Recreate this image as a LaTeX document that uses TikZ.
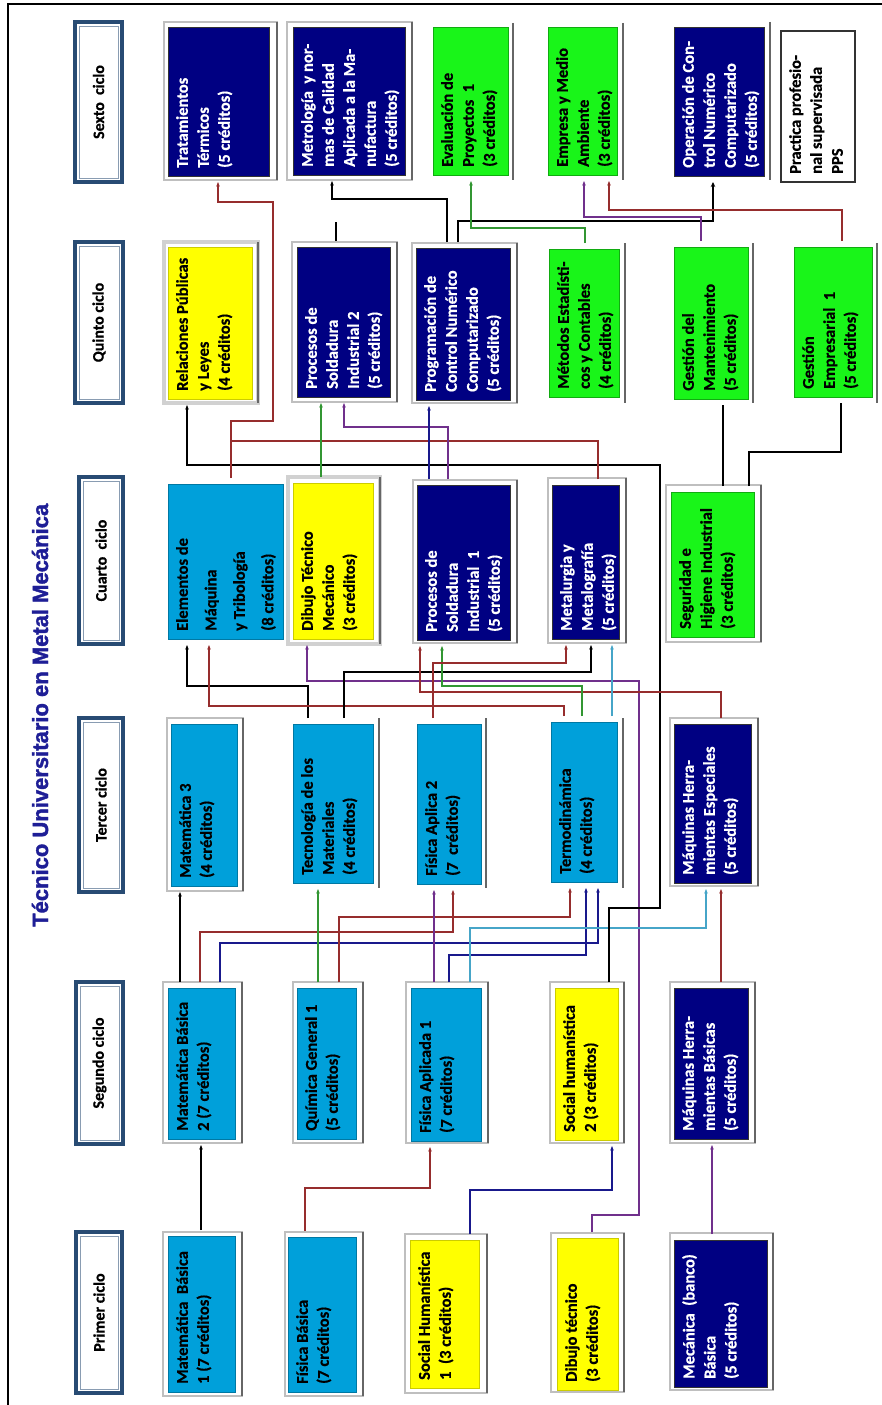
\documentclass[tikz,border=0pt]{standalone}
\usepackage{fontspec}
\setmainfont{Carlito}[BoldFeatures={FakeBold=0.6}]
\newfontfamily\titlefont{Liberation Sans}[BoldFeatures={FakeBold=1.6}]
\usetikzlibrary{fit,arrows.meta}
\definecolor{cnavy}{RGB}{0,0,130}
\definecolor{clblue}{RGB}{0,160,218}
\definecolor{cyel}{RGB}{255,255,0}
\definecolor{cgreen}{RGB}{25,245,25}
\definecolor{lred}{RGB}{150,45,45}
\definecolor{lpurple}{RGB}{112,48,140}
\definecolor{lgreen}{RGB}{50,150,50}
\definecolor{lcyan}{RGB}{70,165,200}
\definecolor{lnavy}{RGB}{25,25,140}
\definecolor{hdrblue}{RGB}{40,75,115}
\definecolor{ttlblue}{RGB}{30,30,150}
\newcommand\course[8]{%
  \node[#2, fit={(#4,#5)(#6,#7)}] (#1) {};
  \node[#3] at ({#4+8},{#7-8}) {#8};}
\newcommand\cyc[6]{%
  \node[hdr, fit={(#2,#3)(#4,#5)}] (#1) {};
  \draw[hdrin] ({#2+4},{#3+4}) rectangle ({#4-4},{#5-4});
  \node[hdrtxt] at (#1.center) {#6};}
\newcommand\frA[4]{\draw[frm] (#1,#2) rectangle (#3,#4); \draw[fedge] (#3,#2) -- (#3,#4);}
\newcommand\frT[4]{\draw[frmthick] (#1,#2) rectangle (#3,#4); \draw[fedge] (#3,#2) -- (#3,#4);}
\newcommand\frB[3]{\draw[fedge] (#1,#2) -- (#1,#3);}
\begin{document}
\begin{tikzpicture}[x=1pt,y=-1pt,
  cbox/.style={inner sep=0pt, outer sep=6pt, line width=0.8pt},
  navybox/.style={cbox, fill=cnavy, draw=black!80},
  bluebox/.style={cbox, fill=clblue, draw=clblue!75!black},
  yelbox/.style={cbox, fill=cyel, draw=cyel!80!black},
  grnbox/.style={cbox, fill=cgreen, draw=cgreen!70!black},
  whtbox/.style={cbox, fill=white, draw=black!80, line width=1.3pt},
  txt/.style={rotate=90, anchor=north west, inner sep=0pt, align=left, font=\bfseries\fontsize{16.5}{21}\selectfont},
  wtxt/.style={txt, text=white},
  btxt/.style={txt, text=black},
  btxtwide/.style={btxt, font=\bfseries\fontsize{16.5}{28.5}\selectfont},
  hdr/.style={inner sep=0pt, draw=hdrblue, line width=3.5pt, fill=white},
  hdrin/.style={draw=hdrblue!55, line width=0.9pt},
  hdrtxt/.style={rotate=90, text=black, font=\bfseries\fontsize{16}{19}\selectfont},
  frm/.style={draw=black!25, line width=1.2pt, fill=white},
  frmthick/.style={draw=black!18, line width=3.5pt, fill=white},
  fedge/.style={draw=black!60, line width=1.8pt},
  link/.style={line width=1.1pt, -{Stealth[length=4.5pt,width=3.5pt]}},
  nolink/.style={line width=1.1pt},
  thicklink/.style={line width=2.4pt, black, -{Stealth[length=5pt,width=4.5pt]}},
  thickline/.style={line width=2.4pt, black}
]
\useasboundingbox (0,0) rectangle (882,1405);
\fill[white] (0,0) rectangle (882,1405);
\draw[line width=2pt] (882,4) -- (8,4) -- (8,1405);

\node[rotate=90, anchor=base west, inner sep=0pt, text=ttlblue,
  font=\titlefont\bfseries\fontsize{22}{26}\selectfont] (title) at (48,927)
  {Técnico Universitario en Metal Mecánica};

% cycle headers
\cyc{h6}{75}{22}{122}{182}{Sexto~ ciclo}
\cyc{h5}{75}{242}{123}{403}{Quinto ciclo}
\cyc{h4}{79}{477}{123}{644}{Cuarto~ ciclo}
\cyc{h3}{79}{718}{123}{892}{Tercer ciclo}
\cyc{h2}{76}{982}{123}{1144}{Segundo ciclo}
\cyc{h1}{76}{1232}{122}{1393}{Primer ciclo}

% frames
\frA{164}{22}{277}{180}
\frA{287}{22}{412}{180}
\frB{513}{23}{180}
\frB{623}{23}{180}
\frB{770}{22}{180}
\frT{164}{242}{258}{403}
\frA{292}{242}{397}{402}
\frA{412}{243}{517}{403}
\frB{625}{243}{403}
\frB{753}{243}{403}
\frB{877}{243}{403}
\frT{288}{477}{380}{644}
\frA{413}{480}{517}{643}
\frA{548}{478}{626}{643}
\frA{666}{485}{761}{642}
\frA{167}{718}{243}{891}
\frB{379}{718}{888}
\frB{486}{718}{888}
\frB{623}{718}{888}
\frA{670}{718}{758}{886}
\frA{163}{982}{242}{1143}
\frA{293}{982}{363}{1143}
\frA{406}{982}{488}{1143}
\frA{550}{982}{624}{1143}
\frA{670}{982}{755}{1143}
\frA{163}{1232}{242}{1396}
\frA{285}{1232}{363}{1396}
\frA{405}{1234}{487}{1393}
\frA{551}{1233}{624}{1392}
\frA{670}{1233}{773}{1390}

% sixth cycle
\course{tt}{navybox}{wtxt}{168}{27}{269}{176}{Tratamientos\\Térmicos\\(5 créditos)}
\course{me}{navybox}{wtxt}{293}{27}{405}{175}{Metrología~ y nor-\\mas de Calidad\\Aplicada a la Ma-\\nufactura\\(5 créditos)}
\course{ev}{grnbox}{btxt}{433}{27}{508}{175}{Evaluación de\\Proyectos~ 1\\(3 créditos)}
\course{em}{grnbox}{btxt}{548}{27}{617}{175}{Empresa y Medio\\Ambiente\\(3 créditos)}
\course{oc}{navybox}{wtxt}{674}{27}{764}{176}{Operación de Con-\\trol Numérico\\Computarizado\\(5 créditos)}
\course{pp}{whtbox}{btxt}{781}{31}{855}{182}{Practica profesio-\\nal supervisada\\PPS}
% fifth cycle
\course{rp}{yelbox}{btxt}{168}{247}{252}{399}{Relaciones Públicas\\y Leyes\\(4 créditos)}
\course{ps2}{navybox}{wtxt}{297}{247}{390}{397}{Procesos de\\Soldadura\\Industrial 2\\(5 créditos)}
\course{pc}{navybox}{wtxt}{416}{248}{510}{400}{Programación de\\Control Numérico\\Computarizado\\(5 créditos)}
\course{mt}{grnbox}{btxt}{549}{249}{619}{397}{Métodos Estadísti-\\cos y Contables\\(4 créditos)}
\course{gm}{grnbox}{btxt}{674}{247}{748}{399}{Gestión del\\Mantenimiento\\(5 créditos)}
\course{ge}{grnbox}{btxt}{794}{247}{872}{397}{Gestión\\Empresarial~ 1\\(5 créditos)}
% fourth cycle
\course{el}{bluebox}{btxtwide}{168}{484}{283}{639}{Elementos de\\Máquina\\y Tribología\\(8 créditos)}
\course{dm}{yelbox}{btxt}{293}{483}{373}{639}{Dibujo Técnico\\Mecánico\\(3 créditos)}
\course{ps1}{navybox}{wtxt}{417}{485}{510}{640}{Procesos de\\Soldadura\\Industrial~ 1\\(5 créditos)}
\course{mg}{navybox}{wtxt}{552}{485}{619}{639}{Metalurgia y\\Metalografía\\(5 créditos)}
\course{sh}{grnbox}{btxt}{671}{492}{754}{637}{Seguridad e\\Higiene Industrial\\(3 créditos)}
% third cycle
\course{m3}{bluebox}{btxt}{171}{724}{237}{886}{Matemática 3\\(4 créditos)}
\course{tm}{bluebox}{btxt}{293}{724}{373}{883}{Tecnología de los\\Materiales\\(4 créditos)}
\course{fa2}{bluebox}{btxt}{417}{724}{481}{884}{Física Aplica 2\\(7~ créditos)}
\course{td}{bluebox}{btxt}{551}{722}{617}{882}{Termodinámica\\(4 créditos)}
\course{mhe}{navybox}{wtxt}{674}{724}{751}{883}{Máquinas Herra-\\mientas Especiales\\(5 créditos)}
% second cycle
\course{mb2}{bluebox}{btxt}{168}{988}{235}{1139}{Matemática Básica\\2 (7 créditos)}
\course{qg}{bluebox}{btxt}{297}{988}{356}{1139}{Química General 1\\(5 créditos)}
\course{fa1}{bluebox}{btxt}{411}{988}{481}{1141}{Física Aplicada 1\\(7 créditos)}
\course{sh2}{yelbox}{btxt}{555}{988}{618}{1140}{Social humanística\\2 (3 créditos)}
\course{mhb}{navybox}{wtxt}{674}{988}{748}{1139}{Máquinas Herra-\\mientas Básicas\\(5 créditos)}
% first cycle
\course{mb1}{bluebox}{btxt}{168}{1236}{235}{1392}{Matemática~ Básica\\1 (7 créditos)}
\course{fb}{bluebox}{btxt}{288}{1237}{356}{1392}{Física Básica\\(7 créditos)}
\course{sh1}{yelbox}{btxt}{410}{1240}{479}{1388}{Social Humanística\\1~ (3 créditos)}
\course{dt}{yelbox}{btxt}{557}{1238}{618}{1390}{Dibujo técnico\\(3 créditos)}
\course{mec}{navybox}{wtxt}{674}{1240}{767}{1387}{Mecánica~ (banco)\\Básica\\(5 créditos)}

% connectors: cycle 1 -> 2
\draw[link, black] (mb1.north -| 201,0) -- (mb2.south -| 201,0);
\draw[link, lred] (fb.north -| 305,0) -- (305,1188) -- (430,1188) -- (fa1.south -| 430,0);
\draw[link, lnavy] (sh1.north -| 470,0) -- (470,1190) -- (612,1190) -- (sh2.south -| 612,0);
\draw[link, lpurple] (dt.north -| 592,0) -- (592,1215) -- (639,1215) -- (639,681) -- (307,681) -- (dm.south -| 307,0);
\draw[link, lpurple] (mec.north -| 712,0) -- (mhb.south -| 712,0);
% cycle 2 -> 3
\draw[link, black] (mb2.north -| 180,0) -- (m3.south -| 180,0);
\draw[link, lred] (mb2.north -| 200,0) -- (200,932) -- (453,932) -- (fa2.south -| 453,0);
\draw[link, lnavy] (mb2.north -| 220,0) -- (220,943) -- (598,943) -- (td.south -| 598,0);
\draw[link, lgreen] (qg.north -| 318,0) -- (tm.south -| 318,0);
\draw[link, lred] (qg.north -| 339,0) -- (339,917) -- (570,917) -- (td.south -| 570,0);
\draw[link, lpurple] (fa1.north -| 434,0) -- (fa2.south -| 434,0);
\draw[link, lnavy] (fa1.north -| 449,0) -- (449,955) -- (586,955) -- (td.south -| 586,0);
\draw[link, lcyan] (fa1.north -| 470,0) -- (470,928) -- (706,928) -- (mhe.south -| 706,0);
\draw[link, lred] (mhb.north -| 721,0) -- (mhe.south -| 721,0);
\draw[link, black] (sh2.north -| 609,0) -- (609,908) -- (660,908) -- (660,465) -- (187,465) -- (rp.south -| 187,0);
% cycle 3 -> 4
\draw[link, black] (tm.north -| 308,0) -- (308,686) -- (187,686) -- (el.south -| 187,0);
\draw[link, lred] (td.north -| 564,0) -- (564,706) -- (209,706) -- (el.south -| 209,0);
\draw[link, black] (tm.north -| 344,0) -- (344,672) -- (591,672) -- (mg.south -| 591,0);
\draw[link, lred] (mhe.north -| 721,0) -- (721,692) -- (420,692) -- (ps1.south -| 420,0);
\draw[link, lgreen] (td.north -| 582,0) -- (582,686) -- (442,686) -- (ps1.south -| 442,0);
\draw[link, lred] (fa2.north -| 433,0) -- (433,663) -- (566,663) -- (mg.south -| 566,0);
\draw[link, lcyan] (td.north -| 612,0) -- (mg.south -| 612,0);
% cycle 4 -> 5 / 6
\draw[link, lred] (el.north -| 231,0) -- (231,421) -- (273,421) -- (273,202) -- (218,202) -- (tt.south -| 218,0);
\coordinate (j1) at (231,441);
\draw[nolink, lred] (mg.north -| 598,0) -- (598,441) -- (j1);
\draw[link, lgreen] (dm.north -| 321,0) -- (ps2.south -| 321,0);
\draw[link, lpurple] (ps1.north -| 448,0) -- (448,427) -- (344,427) -- (ps2.south -| 344,0);
\draw[link, lnavy] (ps1.north -| 429,0) -- (pc.south -| 429,0);
\draw[thickline] (sh.north -| 723,0) -- (gm.south -| 723,0);
\draw[thickline] (sh.north -| 749,0) -- (749,452) -- (841,452) -- (ge.south -| 841,0);
% cycle 5 -> 6
\draw[link, black] (pc.north -| 447,0) -- (447,199) -- (332,199) -- (me.south -| 332,0);
\draw[thicklink] (pc.north -| 458,0) -- (458,221) -- (713,221) -- (oc.south -| 713,0);
\coordinate (s1) at (336,222);
\draw[nolink, black] (ps2.north -| 336,0) -- (s1);
\draw[link, lgreen] (mt.north -| 585,0) -- (585,228) -- (471,228) -- (ev.south -| 471,0);
\draw[link, lpurple] (gm.north -| 701,0) -- (701,217) -- (584,217) -- (em.south -| 584,0);
\draw[link, lred] (ge.north -| 842,0) -- (842,210) -- (609,210) -- (em.south -| 609,0);
\end{tikzpicture}
\end{document}
